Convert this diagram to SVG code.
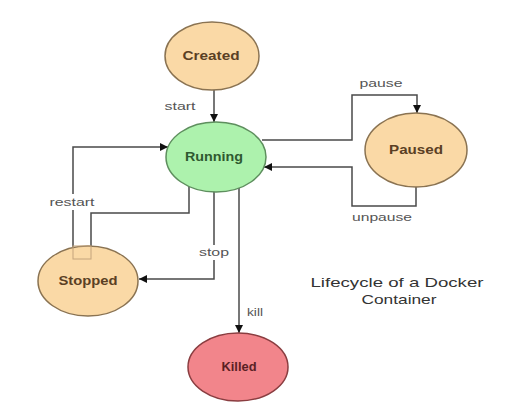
<svg xmlns="http://www.w3.org/2000/svg" width="519" height="406" viewBox="0 0 519 406">
  <defs>
    <marker id="arr" viewBox="0 0 10 10" refX="10" refY="5" markerWidth="8" markerHeight="8" markerUnits="userSpaceOnUse" orient="auto">
      <path d="M0,0 L10,5 L0,10 z" fill="#111"/>
    </marker>
    <style>
      .edge { fill: none; stroke: #4a4a4a; stroke-width: 1.5; }
      .tan { fill: #fad9a6; stroke: #8a7352; stroke-width: 1.5; }
      .green { fill: #adf2ad; stroke: #5e8f5e; stroke-width: 1.5; }
      .red { fill: #f2858b; stroke: #8a3d40; stroke-width: 1.5; }
      .nl { font-family: "Liberation Sans", Arial, sans-serif; font-size: 12px; font-weight: bold; text-anchor: middle; dominant-baseline: central; }
      .el { font-family: "Liberation Sans", Arial, sans-serif; font-size: 11px; fill: #555; text-anchor: middle; dominant-baseline: central; }
      .title { font-family: "Liberation Sans", Arial, sans-serif; font-size: 13px; fill: #333; text-anchor: middle; dominant-baseline: central; }
    </style>
  </defs>
  <rect width="519" height="406" fill="#ffffff"/>

  <g id="connectors">
    <!-- start -->
    <path class="edge" d="M214,90 L214,122" marker-end="url(#arr)"/>
    <!-- pause -->
    <path class="edge" d="M262,140 L352,140 L352,95 L417,95 L417,113" marker-end="url(#arr)"/>
    <!-- unpause -->
    <path class="edge" d="M416,186 L416,206 L352,206 L352,167 L264,167" marker-end="url(#arr)"/>
    <!-- restart -->
    <path class="edge" d="M73,247 L73,147 L168,147" marker-end="url(#arr)"/>
    <path class="edge" d="M91,247 L91,213 L189,213 L189,186"/>
    <!-- stop -->
    <path class="edge" d="M214,191 L214,279 L139,279" marker-end="url(#arr)"/>
    <!-- kill -->
    <path class="edge" d="M239,188 L239,333" marker-end="url(#arr)"/>

    <rect x="48" y="194" width="49" height="16" fill="#ffffff"/>
    <rect x="197" y="245" width="34" height="15" fill="#ffffff"/>
    <text class="el" x="180" y="106" textLength="31" lengthAdjust="spacingAndGlyphs">start</text>
    <text class="el" x="381" y="83" textLength="43" lengthAdjust="spacingAndGlyphs">pause</text>
    <text class="el" x="382" y="217" textLength="60" lengthAdjust="spacingAndGlyphs">unpause</text>
    <text class="el" x="72" y="202" textLength="45" lengthAdjust="spacingAndGlyphs">restart</text>
    <text class="el" x="214" y="252" textLength="30" lengthAdjust="spacingAndGlyphs">stop</text>
    <text class="el" x="255" y="312" textLength="16" lengthAdjust="spacingAndGlyphs">kill</text>
  </g>

  <g id="created">
    <ellipse class="tan" cx="212" cy="56" rx="47" ry="34"/>
    <text class="nl" x="211" y="56" fill="#5a4024" textLength="57" lengthAdjust="spacingAndGlyphs">Created</text>
  </g>
  <g id="running">
    <ellipse class="green" cx="216" cy="157" rx="50" ry="35"/>
    <text class="nl" x="214" y="157" fill="#2f5a30" textLength="58" lengthAdjust="spacingAndGlyphs">Running</text>
  </g>
  <g id="paused">
    <ellipse class="tan" cx="416" cy="150" rx="51" ry="37"/>
    <text class="nl" x="416" y="150" fill="#5a4024" textLength="54" lengthAdjust="spacingAndGlyphs">Paused</text>
  </g>
  <g id="stopped">
    <ellipse class="tan" cx="88" cy="281" rx="50" ry="35"/>
    <rect x="73" y="246" width="18" height="13" fill="none" stroke="#c4a47c" stroke-width="1"/>
    <text class="nl" x="88" y="281" fill="#5a4024" textLength="59" lengthAdjust="spacingAndGlyphs">Stopped</text>
  </g>
  <g id="killed">
    <ellipse class="red" cx="238" cy="367" rx="50" ry="34"/>
    <text class="nl" x="239" y="367" fill="#5a1f24" textLength="35" lengthAdjust="spacingAndGlyphs">Killed</text>
  </g>

  <g id="title">
    <text class="title" x="397" y="282" textLength="173" lengthAdjust="spacingAndGlyphs">Lifecycle of a Docker</text>
    <text class="title" x="399" y="299" textLength="75" lengthAdjust="spacingAndGlyphs">Container</text>
  </g>
</svg>
